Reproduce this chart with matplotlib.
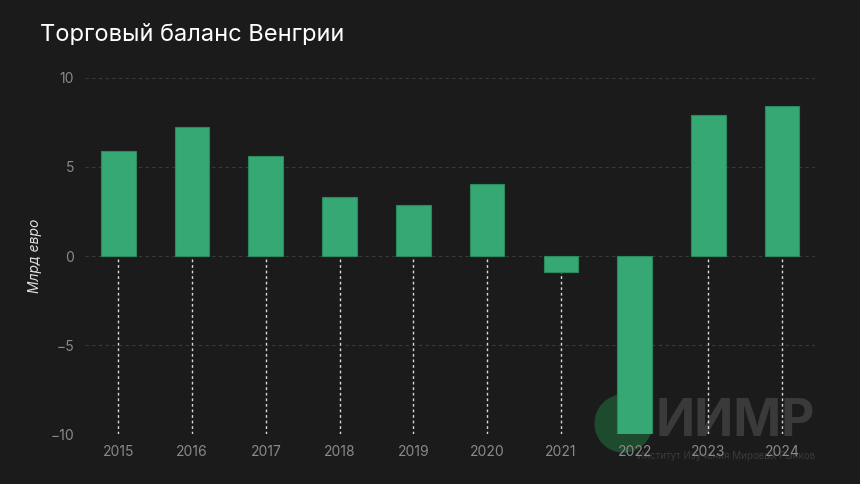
import matplotlib
matplotlib.use("Agg")
import matplotlib.pyplot as plt
from matplotlib.patches import Ellipse

plt.rcParams["font.family"] = ["Inter", "DejaVu Sans"]

years = ["2015", "2016", "2017", "2018", "2019", "2020", "2021", "2022", "2023", "2024"]
balance = [5.9, 7.25, 5.6, 3.3, 2.85, 4.05, -0.9, -10.0, 7.9, 8.4]

BG = "#1b1b1b"
GREEN = "#36a874"

fig = plt.figure(figsize=(8.6, 4.84), dpi=100, facecolor=BG)
ax = fig.add_axes([0.099, 0.103, 0.849, 0.736])
ax.set_facecolor("none")

x = list(range(len(years)))
ax.bar(x, balance, width=0.47, color=GREEN, edgecolor="#2a8a5c", linewidth=0.8, zorder=3)

# dotted drop lines from bar base / bottom down to the axis bottom
for xi, v in zip(x, balance):
    top = min(0, v)
    if top > -10:
        ax.plot([xi, xi], [-10, top], linestyle=(0, (2, 2)), color="#d8d8d8", lw=1.0, zorder=2)

ax.set_ylim(-10, 10)
ax.set_xlim(-0.45, len(years) - 0.55)
ax.set_yticks([-10, -5, 0, 5, 10])
ax.yaxis.grid(True, linestyle=(0, (3, 3)), color="#3a3a3a", lw=0.8, zorder=0)
ax.set_xticks(x)
ax.set_xticklabels(years)
ax.tick_params(colors="#8a8a8a", labelsize=10, length=0, pad=8)
for s in ax.spines.values():
    s.set_visible(False)
ax.set_ylabel("Млрд евро", color="#e0e0e0", fontsize=10, style="italic", labelpad=6)

fig.text(0.047, 0.915, "Торговый баланс Венгрии", color="white", fontsize=17)

# watermark (drawn under the axes)
fig.patches.append(Ellipse((0.725, 0.125), 0.066, 0.118, transform=fig.transFigure,
                           color="#1e4a2e", zorder=-2))
fig.text(0.762, 0.1, "ИИМР", color="#3a3a3a", fontsize=37, fontweight="bold",
         ha="left", zorder=-1)
fig.text(0.948, 0.052, "Институт Изучения Мировых Рынков", color="#3a3a3a",
         fontsize=7, ha="right", zorder=-1)

fig.savefig("out.png", dpi=100, facecolor=BG)
